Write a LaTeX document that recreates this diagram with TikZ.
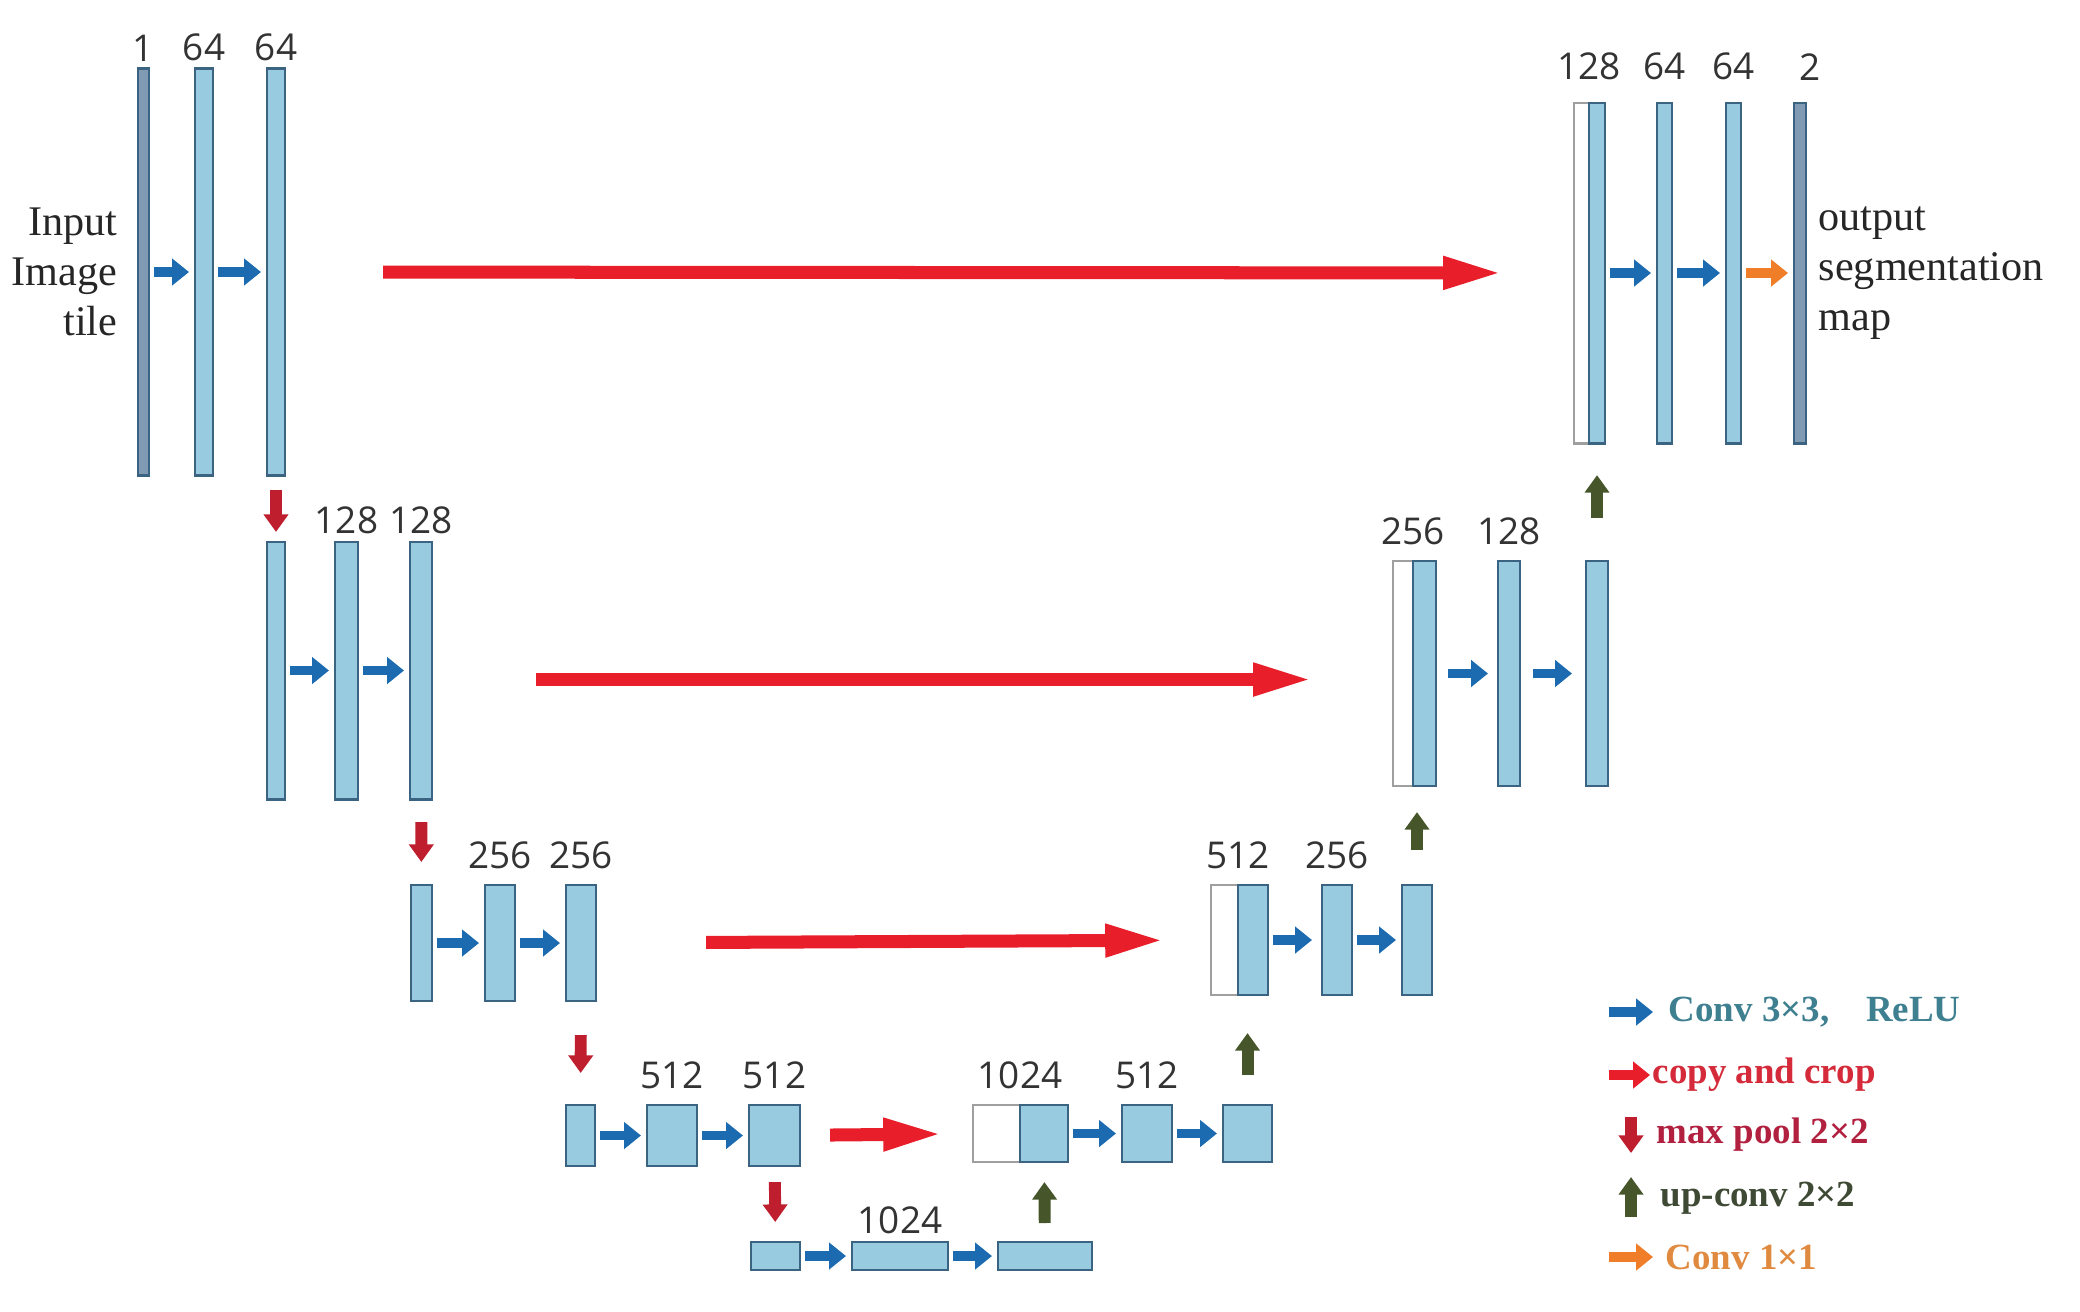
\documentclass[tikz,border=0pt]{standalone}
\usepackage{fontspec}
\setmainfont{Liberation Serif}
\newfontfamily\numfont{Open Sans}
\usetikzlibrary{arrows.meta,positioning}

\definecolor{barfill}{HTML}{98CBE0}
\definecolor{bardraw}{HTML}{3B6382}
\definecolor{darkfill}{HTML}{7F9AB2}
\definecolor{convblue}{HTML}{1C6BB0}
\definecolor{copyred}{HTML}{E81E2B}
\definecolor{poolred}{HTML}{BE1E2D}
\definecolor{upgreen}{HTML}{46562A}
\definecolor{convorange}{HTML}{F07D28}
\definecolor{keyteal}{HTML}{3E7F90}
\definecolor{keyred}{HTML}{D42A3A}
\definecolor{keycrimson}{HTML}{B2203F}
\definecolor{keyolive}{HTML}{3F4A35}
\definecolor{keyorange}{HTML}{E08A40}

\tikzstyle{fmap} = [rectangle, draw=bardraw, line width=0.8pt, fill=barfill, inner sep=0pt, outer sep=0pt]
\tikzstyle{fmapdark} = [fmap, fill=darkfill]
\tikzstyle{fmapcopy} = [fmap, draw=gray!75, fill=white]
\tikzstyle{dims} = [font=\numfont\fontsize{10.5}{12}\selectfont, text=black!80, inner sep=2pt]
\tikzstyle{side} = [font=\fontsize{12}{14.2}\selectfont, text=black!85, inner sep=0pt]
\tikzstyle{key} = [font=\fontsize{10.5}{12}\selectfont\bfseries, inner sep=0pt, anchor=west]
\tikzstyle{conv} = [line width=2.8pt, draw=convblue, -{Triangle[length=4.8pt,width=7.4pt]}, shorten <=0.05cm, shorten >=0.06cm]
\tikzstyle{last} = [conv, draw=convorange]
\tikzstyle{copy} = [line width=3.7pt, draw=copyred, -{Triangle[length=17pt,width=8.5pt]}]
\tikzstyle{pool} = [line width=3.4pt, draw=poolred, -{Triangle[length=5pt,width=6.8pt]}]
\tikzstyle{upconv} = [pool, draw=upgreen]

\begin{document}
\begin{tikzpicture}[x=0.01cm, y=-0.01cm, node distance=0.08cm]
\useasboundingbox (0,0) rectangle (2080,1311);

% contracting path
\node (l1a) [fmapdark, minimum width=0.11cm, minimum height=4.06cm] at (143.5,272) {};
\node (l1b) [fmap, minimum width=0.18cm, minimum height=4.06cm] at (204,272) {};
\node (l1c) [fmap, minimum width=0.18cm, minimum height=4.06cm] at (276,272) {};

\node (l2a) [fmap, minimum width=0.18cm, minimum height=2.57cm] at (276,670.5) {};
\node (l2b) [fmap, minimum width=0.23cm, minimum height=2.57cm] at (346.5,670.5) {};
\node (l2c) [fmap, minimum width=0.22cm, minimum height=2.57cm] at (421,670.5) {};

\node (l3a) [fmap, minimum width=0.21cm, minimum height=1.16cm] at (421.5,943) {};
\node (l3b) [fmap, minimum width=0.30cm, minimum height=1.16cm] at (500,943) {};
\node (l3c) [fmap, minimum width=0.30cm, minimum height=1.16cm] at (581,943) {};

\node (l4a) [fmap, minimum width=0.29cm, minimum height=0.61cm] at (580.5,1135.5) {};
\node (l4b) [fmap, minimum width=0.50cm, minimum height=0.61cm] at (672,1135.5) {};
\node (l4c) [fmap, minimum width=0.51cm, minimum height=0.61cm] at (774.5,1135.5) {};

\node (l5a) [fmap, minimum width=0.49cm, minimum height=0.28cm] at (775.5,1256) {};
\node (l5b) [fmap, minimum width=0.96cm, minimum height=0.28cm] at (900,1256) {};
\node (l5c) [fmap, minimum width=0.94cm, minimum height=0.28cm] at (1045,1256) {};

% expansive path
\node (r4w) [fmapcopy, minimum width=0.47cm, minimum height=0.57cm] at (996.5,1133.5) {};
\node (r4b) [fmap, minimum width=0.48cm, minimum height=0.57cm] at (1044,1133.5) {};
\node (r4c) [fmap, minimum width=0.50cm, minimum height=0.57cm] at (1147,1133.5) {};
\node (r4d) [fmap, minimum width=0.49cm, minimum height=0.57cm] at (1247.5,1133.5) {};

\node (r3w) [fmapcopy, minimum width=0.27cm, minimum height=1.10cm] at (1224.5,940) {};
\node (r3b) [fmap, minimum width=0.30cm, minimum height=1.10cm] at (1253,940) {};
\node (r3c) [fmap, minimum width=0.30cm, minimum height=1.10cm] at (1337,940) {};
\node (r3d) [fmap, minimum width=0.30cm, minimum height=1.10cm] at (1417,940) {};

\node (r2w) [fmapcopy, minimum width=0.20cm, minimum height=2.25cm] at (1403,673.5) {};
\node (r2b) [fmap, minimum width=0.23cm, minimum height=2.25cm] at (1424.5,673.5) {};
\node (r2c) [fmap, minimum width=0.22cm, minimum height=2.25cm] at (1509,673.5) {};
\node (r2d) [fmap, minimum width=0.22cm, minimum height=2.25cm] at (1597,673.5) {};

\node (r1w) [fmapcopy, minimum width=0.15cm, minimum height=3.40cm] at (1581.5,273) {};
\node (r1b) [fmap, minimum width=0.16cm, minimum height=3.40cm] at (1597,273) {};
\node (r1c) [fmap, minimum width=0.15cm, minimum height=3.40cm] at (1664.5,273) {};
\node (r1d) [fmap, minimum width=0.15cm, minimum height=3.40cm] at (1733.5,273) {};
\node (r1e) [fmapdark, minimum width=0.12cm, minimum height=3.40cm] at (1800,273) {};

% channel numbers
\node (n1a) [dims, above=0cm of l1a] {1};
\node (n1b) [dims, above=0cm of l1b] {64};
\node (n1c) [dims, above=0cm of l1c] {64};
\node (n2b) [dims, above=0cm of l2b] {128};
\node (n2c) [dims, above=0cm of l2c] {128};
\node (n3b) [dims, above=of l3b] {256};
\node (n3c) [dims, above=of l3c] {256};
\node (n4b) [dims, above=of l4b] {512};
\node (n4c) [dims, above=of l4c] {512};
\node (n5b) [dims, above=0cm of l5b] {1024};
\node (m4) [dims, above=of r4w.north east] {1024};
\node (m4c) [dims, above=of r4c] {512};
\node (m3) [dims, above=of r3w.north east] {512};
\node (m3c) [dims, above=of r3c] {256};
\node (m2) [dims, above=of r2w.north east] {256};
\node (m2c) [dims, above=of r2c] {128};
\node (m1) [dims, above=0.15cm of r1w.north east] {128};
\node (m1c) [dims, above=0.15cm of r1c] {64};
\node (m1d) [dims, above=0.15cm of r1d] {64};
\node (m1e) [dims, above=0.15cm of r1e, xshift=0.1cm] {2};

\node (input) [side, align=right, left=0.2cm of l1a] {Input\\Image\\tile};
\node (output) [side, align=left, right=0.12cm of r1e] {output\\segmentation\\map};

% conv 3x3
\draw [conv] (l1a) -- (l1b);
\draw [conv] (l1b) -- (l1c);
\draw [conv] (l2a) -- (l2b);
\draw [conv] (l2b) -- (l2c);
\draw [conv] (l3a) -- (l3b);
\draw [conv] (l3b) -- (l3c);
\draw [conv] (l4a) -- (l4b);
\draw [conv] (l4b) -- (l4c);
\draw [conv] (l5a) -- (l5b);
\draw [conv] (l5b) -- (l5c);
\draw [conv] (r4b) -- (r4c);
\draw [conv] (r4c) -- (r4d);
\draw [conv, shorten >=0.1cm] (r3b) -- (r3c);
\draw [conv] (r3c) -- (r3d);
\draw [conv, shorten <=0.12cm, shorten >=0.1cm] (r2b) -- (r2c);
\draw [conv, shorten <=0.13cm, shorten >=0.14cm] (r2c) -- (r2d);
\draw [conv] (r1b) -- (r1c);
\draw [conv] (r1c) -- (r1d);
\draw [last] (r1d) -- (r1e);

% copy and crop
\draw [copy, shorten <=0.98cm, shorten >=0.71cm] (l1c) -- (r1w);
\draw [copy, shorten <=1.04cm, shorten >=0.80cm] ([yshift=-0.09cm]l2c.east) -- ([yshift=-0.09cm]l2c.east -| r2w.west);
\draw [copy, shorten <=1.10cm, shorten >=0.46cm] (l3c) -- (r3w);
\draw [copy, shorten <=0.30cm, shorten >=0.30cm] (l4c) -- (r4w);

% max pool
\draw [pool, shorten <=0.15cm, shorten >=0.10cm] (l1c) -- (l2a);
\draw [pool, shorten <=0.23cm, shorten >=0.23cm] (l2c) -- (l3a);
\draw [pool, shorten <=0.34cm, shorten >=0.32cm] (l3c) -- (l4a);
\draw [pool, shorten <=0.16cm, shorten >=0.20cm] (l4c) -- (l5a);

% up-conv
\draw [upconv, shorten <=0.19cm, shorten >=0.20cm] (l5c) -- (r4b);
\draw [upconv, shorten <=0.30cm, shorten >=0.38cm] (r4d) -- (r4d |- r3b.south);
\draw [upconv, shorten <=0.35cm, shorten >=0.26cm] (r3d) -- (r3d |- r2b.south);
\draw [upconv, shorten <=0.43cm, shorten >=0.32cm] (r2d) -- (r1b);

% legend
\coordinate (k1a) at (1609,1012);
\coordinate (k1b) at (1653,1012);
\coordinate (k2a) at (1609,1075);
\coordinate (k2b) at (1650,1075);
\coordinate (k3a) at (1631,1117);
\coordinate (k3b) at (1631,1153);
\coordinate (k4a) at (1631,1217);
\coordinate (k4b) at (1631,1177);
\coordinate (k5a) at (1609,1257);
\coordinate (k5b) at (1653,1257);
\draw [conv, shorten <=0pt, shorten >=0pt] (k1a) -- (k1b);
\draw [conv, draw=copyred, shorten <=0pt, shorten >=0pt] (k2a) -- (k2b);
\draw [pool] (k3a) -- (k3b);
\draw [upconv] (k4a) -- (k4b);
\draw [last, shorten <=0pt, shorten >=0pt] (k5a) -- (k5b);
\node (k1) [key, text=keyteal] at (1668,1012) {Conv 3×3,\quad ReLU};
\node (k2) [key, text=keyred] at (1652,1075) {copy and crop};
\node (k3) [key, text=keycrimson] at (1656,1135) {max pool 2×2};
\node (k4) [key, text=keyolive] at (1660,1198) {up-conv 2×2};
\node (k5) [key, text=keyorange] at (1665,1257) {Conv 1×1};

\end{tikzpicture}
\end{document}
